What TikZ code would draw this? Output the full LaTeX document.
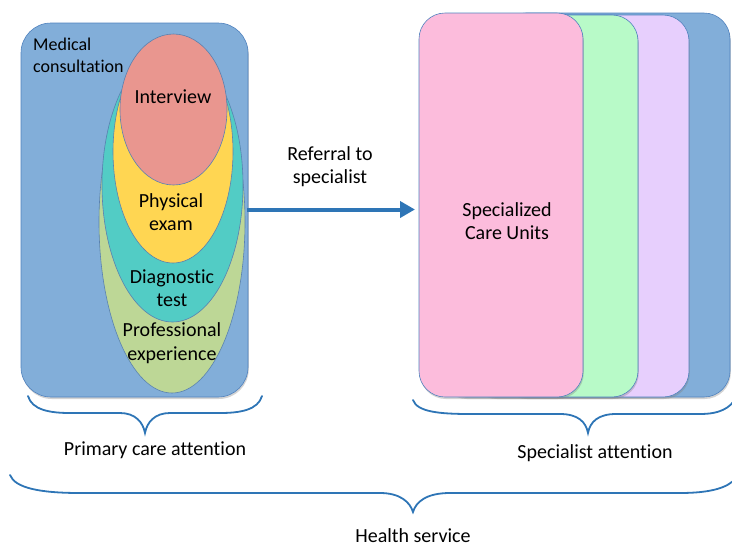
\documentclass[tikz,border=0pt]{standalone}
\usepackage{fontspec}
\setmainfont[RawFeature=-liga]{Carlito}
\usetikzlibrary{shapes.geometric,shadows,arrows.meta}
\definecolor{boxblue}{RGB}{130,174,217}
\definecolor{edgeblue}{RGB}{80,130,190}
\definecolor{linkblue}{RGB}{46,117,182}
\definecolor{ired}{RGB}{233,150,143}
\definecolor{iyellow}{RGB}{255,214,82}
\definecolor{iteal}{RGB}{82,204,197}
\definecolor{igreen}{RGB}{189,215,150}
\definecolor{upink}{RGB}{252,188,220}
\definecolor{ugreen}{RGB}{184,250,200}
\definecolor{upurple}{RGB}{231,207,253}
\tikzset{
  txt/.style={font=\fontsize{20pt}{23.5pt}\selectfont, align=center, inner sep=0pt},
  smalltxt/.style={font=\fontsize{18pt}{22pt}\selectfont, align=left, inner sep=0pt},
  rbox/.style={draw=edgeblue, line width=0.6pt, rounded corners=26pt, inner sep=0pt},
  ell/.style={ellipse, draw=edgeblue!80!gray, line width=0.6pt, inner sep=0pt},
  brace/.style={draw=linkblue, line width=1.8pt, line cap=round},
  shad/.style={drop shadow={opacity=0.35, shadow xshift=0.8pt, shadow yshift=-2pt}}
}
\begin{document}
\begin{tikzpicture}[x=1pt,y=-1pt]
\useasboundingbox (0,0) rectangle (732,547);
% left block
\node[rbox, fill=boxblue, shad, minimum width=227pt, minimum height=374pt, rounded corners=30pt] (lbox) at (134.5,210) {};
\node[ell, fill=igreen, minimum width=146pt, minimum height=342pt] (egreen) at (172,222) {};
\node[ell, fill=iteal, minimum width=141pt, minimum height=274pt] (eteal) at (172.5,185) {};
\node[ell, fill=iyellow, minimum width=120pt, minimum height=223pt] (eyellow) at (173,151.5) {};
\node[ell, fill=ired, minimum width=107pt, minimum height=151pt] (ered) at (173.5,109.5) {};
\node[smalltxt, anchor=west] (medcons) at (33,55) {Medical\\consultation};
\node[txt] (tinterview) at (173,97) {Interview};
\node[txt] (tphys) at (171,212) {Physical\\exam};
\node[txt] (tdiag) at (172,288) {Diagnostic\\test};
\node[txt] (tprof) at (172,343) {Professional\\experience};
% right stack
\node[rbox, fill=boxblue, shad, minimum width=230pt, minimum height=384pt] (ublue) at (615,205) {};
\node[rbox, fill=upurple, shad, minimum width=219pt, minimum height=382pt] (upurple) at (579.5,206) {};
\node[rbox, fill=ugreen, shad, minimum width=198pt, minimum height=382pt] (ugreen) at (539,206) {};
\node[rbox, fill=upink, shad, minimum width=164pt, minimum height=384pt] (upink) at (501,205) {};
\node[txt] (tspec) at (507,221) {Specialized\\Care Units};
% arrow
\coordinate (astart) at (247,209.5);
\coordinate (aend) at (415,209.5);
\draw[draw=linkblue, line width=4pt, -{Triangle[length=15pt,width=16pt]}] (astart) -- (aend);
\node[txt] (tref) at (330,166.5) {Referral to\\specialist};
% braces
\draw[brace] (28,396) .. controls (32,410) and (50,413) .. (70,413) -- (120,413) .. controls (135,413) and (143,422) .. (145,433)
  .. controls (147,422) and (155,413) .. (170,413) -- (220,413) .. controls (240,413) and (258,410) .. (262,396);
\draw[brace] (413,400) .. controls (417,412) and (440,414) .. (470,414) -- (560,414) .. controls (578,414) and (586,422) .. (588,433)
  .. controls (590,422) and (598,414) .. (616,414) -- (700,414) .. controls (720,414) and (730,408) .. (736,398);
\draw[brace] (10,475) .. controls (15,488) and (40,493) .. (80,493) -- (380,493) .. controls (400,493) and (410,502) .. (413,512)
  .. controls (416,502) and (426,493) .. (450,493) -- (680,493) .. controls (710,493) and (728,488) .. (736,478);
\node[txt] (tprim) at (155,450) {Primary care attention};
\node[txt] (tspecatt) at (595,453) {Specialist attention};
\node[txt] (thealth) at (413,536) {Health service};
\end{tikzpicture}
\end{document}
